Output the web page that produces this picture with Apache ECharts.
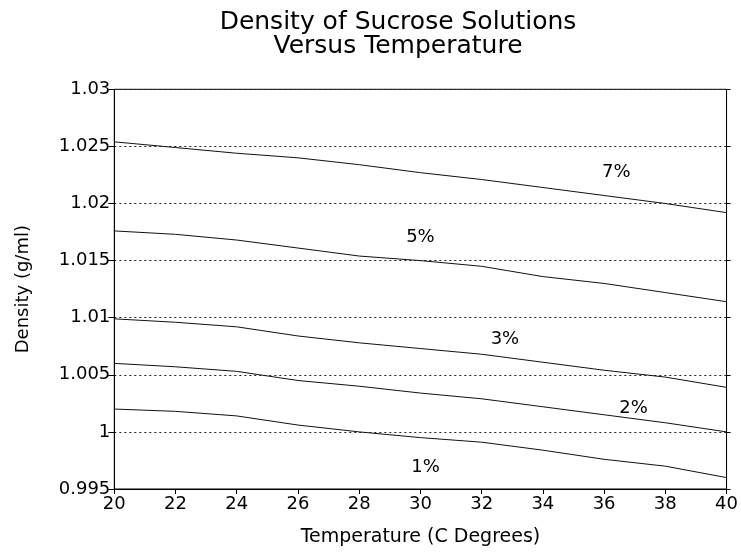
<!DOCTYPE html>
<html>
<head>
<meta charset="utf-8">
<script src="https://cdn.jsdelivr.net/npm/echarts@6/dist/echarts.min.js"></script>
<style>html,body{margin:0;padding:0;background:#fff;}#chart{width:741px;height:552px;}</style>
</head>
<body>
<div id="chart"></div>
<script>
const temperatures = [20, 22, 24, 26, 28, 30, 32, 34, 36, 38, 40];
const sucrose7 = [1.0254, 1.0249, 1.0244, 1.0240, 1.0234, 1.0227, 1.0221, 1.0214, 1.0207, 1.0200, 1.0192];
const sucrose5 = [1.0176, 1.0173, 1.0168, 1.0161, 1.0154, 1.0150, 1.0145, 1.0136, 1.0130, 1.0122, 1.0114];
const sucrose3 = [1.0099, 1.0096, 1.0092, 1.0084, 1.0078, 1.0073, 1.0068, 1.0061, 1.0054, 1.0048, 1.0039];
const sucrose2 = [1.0060, 1.0057, 1.0053, 1.0045, 1.0040, 1.0034, 1.0029, 1.0022, 1.0015, 1.0008, 1.0000];
const sucrose1 = [1.0020, 1.0018, 1.0014, 1.0006, 1.0000, 0.9995, 0.9991, 0.9984, 0.9976, 0.9970, 0.9960];
const seriesNames = ['7%', '5%', '3%', '2%', '1%'];
const labelTemps = [36.4, 30.0, 32.76, 36.96, 30.17];
const labelDens = [1.0227, 1.0170, 1.0081, 1.0021, 0.9969];

const FONT = 'DejaVu Sans';
const allSeries = [sucrose7, sucrose5, sucrose3, sucrose2, sucrose1];

const chart = echarts.init(document.getElementById('chart'), null, {renderer: 'canvas'});
const series = allSeries.map((vals, i) => ({
  name: seriesNames[i],
  type: 'line',
  data: temperatures.map((t, j) => [t, vals[j]]),
  showSymbol: false,
  symbol: 'none',
  lineStyle: {color: '#111', width: 1},
  silent: true,
  markPoint: {
    symbol: 'circle',
    symbolSize: 1,
    itemStyle: {color: 'rgba(0,0,0,0)'},
    label: {show: true, position: 'inside', formatter: seriesNames[i], color: '#000', fontFamily: FONT, fontSize: 18},
    data: [{coord: [labelTemps[i], labelDens[i]]}]
  }
}));

chart.setOption({
  animation: false,
  backgroundColor: '#fff',
  title: {
    text: 'Density of Sucrose Solutions\nVersus Temperature',
    left: 398,
    textAlign: 'center',
    top: 11,
    padding: 0,
    textStyle: {fontFamily: FONT, fontSize: 25, fontWeight: 'normal', color: '#000', lineHeight: 23.5}
  },
  grid: {left: 114.3, right: 12.7, top: 89.3, bottom: 59.3, show: true, borderColor: '#000', borderWidth: 1, containLabel: false},
  xAxis: {
    type: 'value', min: 20, max: 40, interval: 2,
    name: 'Temperature (C Degrees)', nameLocation: 'middle', nameGap: 39,
    nameTextStyle: {fontFamily: FONT, fontSize: 19, color: '#000'},
    axisLine: {show: true, lineStyle: {color: '#000', width: 1}},
    axisTick: {show: true, inside: false, length: 5, lineStyle: {color: '#000'}},
    axisLabel: {fontFamily: FONT, fontSize: 18, color: '#000', margin: 6},
    splitLine: {show: false}
  },
  yAxis: [{
    type: 'value', min: 0.995, max: 1.03, interval: 0.005,
    name: 'Density (g/ml)', nameLocation: 'middle', nameGap: 82, nameRotate: 90,
    nameTextStyle: {fontFamily: FONT, fontSize: 18, color: '#000'},
    axisLine: {show: true, lineStyle: {color: '#000', width: 1}},
    axisTick: {show: true, inside: false, length: 6, lineStyle: {color: '#000'}},
    axisLabel: {fontFamily: FONT, fontSize: 18, color: '#000', margin: 4,
      formatter: v => String(+(+v).toFixed(3))},
    splitLine: {show: true, lineStyle: {color: '#222', width: 1, type: [2, 3]}}
  }, {
    type: 'value', min: 0.995, max: 1.03, interval: 0.005, position: 'right',
    axisLine: {show: true, lineStyle: {color: '#000', width: 1}},
    axisTick: {show: true, inside: false, length: 4, lineStyle: {color: '#000'}},
    axisLabel: {show: false},
    splitLine: {show: false}
  }],
  series: series
});
</script>
</body>
</html>
